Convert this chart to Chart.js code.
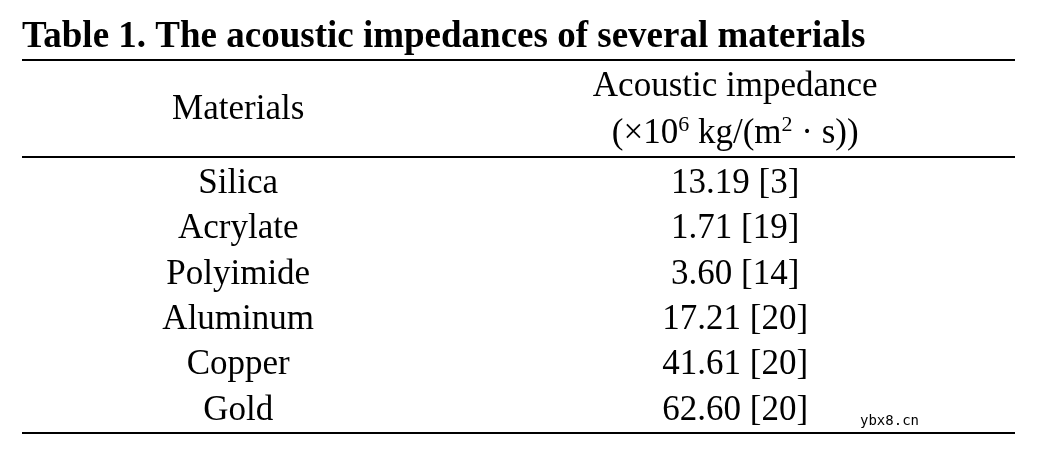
<!DOCTYPE html>
<html>
<head>
<meta charset="utf-8">
<script src="https://cdn.jsdelivr.net/npm/chart.js@4"></script>
<style>
  html, body { margin: 0; padding: 0; background: #fff; }
  #wrap { width: 1038px; height: 452px; }
</style>
</head>
<body>
<div id="wrap"><canvas id="myChart" width="1038" height="452"></canvas></div>
<script>
const title = 'Table 1. The acoustic impedances of several materials';
const materials = ['Silica', 'Acrylate', 'Polyimide', 'Aluminum', 'Copper', 'Gold'];
const impedance = ['13.19', '1.71', '3.60', '17.21', '41.61', '62.60'];
const refs = ['[3]', '[19]', '[14]', '[20]', '[20]', '[20]'];
const headers = ['Materials', 'Acoustic impedance'];

const SERIF = '"Liberation Serif", "DejaVu Serif", serif';

function drawRuns(ctx, runs, cx, y) {
  // runs: [text, size, raise]
  let total = 0;
  runs.forEach(r => { ctx.font = r[1] + 'px ' + SERIF; total += ctx.measureText(r[0]).width; });
  let x = cx - total / 2;
  ctx.textAlign = 'left';
  runs.forEach(r => {
    ctx.font = r[1] + 'px ' + SERIF;
    ctx.fillText(r[0], x, y - (r[2] || 0));
    x += ctx.measureText(r[0]).width;
  });
}

const tablePlugin = {
  id: 'tablePlugin',
  afterDraw(chart) {
    const ctx = chart.ctx;
    const xs = chart.scales.x, ys = chart.scales.y;
    const area = chart.chartArea;
    ctx.save();
    ctx.fillStyle = '#000';
    ctx.strokeStyle = '#000';
    ctx.textBaseline = 'middle';

    ctx.font = 'bold 37px ' + SERIF;
    ctx.textAlign = 'left';
    ctx.fillText(title, area.left, 37);

    ctx.lineWidth = 2;
    [60, area.top - 4, area.bottom].forEach(y => {
      ctx.beginPath();
      ctx.moveTo(area.left, y);
      ctx.lineTo(area.right, y);
      ctx.stroke();
    });

    const c0 = xs.getPixelForValue(0), c1 = xs.getPixelForValue(1);
    ctx.font = '35px ' + SERIF;
    ctx.textAlign = 'center';
    ctx.fillText(headers[0], c0, 110);
    ctx.fillText(headers[1], c1, 87);
    drawRuns(ctx, [['(×10', 35], ['6', 22, 9], [' kg/(m', 35], ['2', 22, 9], [' · s))', 35]], c1, 134);

    ctx.font = '35px ' + SERIF;
    materials.forEach((m, i) => {
      const y = ys.getPixelForValue(i);
      ctx.textAlign = 'center';
      ctx.fillText(m, c0, y);
      ctx.fillText(impedance[i] + ' ' + refs[i], c1, y);
    });

    ctx.font = '14px "DejaVu Sans Mono", monospace';
    ctx.textAlign = 'left';
    ctx.fillText('ybx8.cn', 860, 421);
    ctx.restore();
  }
};

const config = {
  type: 'scatter',
  data: {
    datasets: [{
      data: materials.map((m, i) => ({ x: 0, y: m })),
      pointRadius: 0
    }]
  },
  options: {
    responsive: false,
    animation: false,
    layout: { padding: { left: 22, right: 23, top: 161, bottom: 19 } },
    plugins: { legend: { display: false }, tooltip: { enabled: false } },
    scales: {
      x: { type: 'linear', min: -0.435, max: 1.563, display: false },
      y: { type: 'category', labels: materials, offset: true, display: false }
    }
  },
  plugins: [tablePlugin]
};

const myChart = new Chart(document.getElementById('myChart'), config);
</script>
</body>
</html>
